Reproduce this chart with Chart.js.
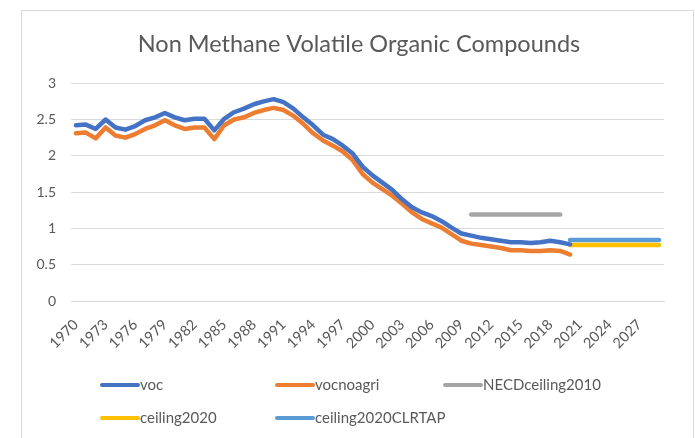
<!DOCTYPE html>
<html>
<head>
<meta charset="utf-8">
<title>Non Methane Volatile Organic Compounds</title>
<script src="https://cdn.jsdelivr.net/npm/chart.js@4.4.0/dist/chart.umd.min.js"></script>
<style>
  html, body { margin: 0; padding: 0; background: #fff; }
  #wrap { position: relative; width: 695px; height: 438px; overflow: hidden; }
  #frame { position: absolute; left: 21px; top: 10px; width: 671px; height: 470px; border: 1px solid #d9d9d9; }
  #vocChart { position: absolute; left: 0; top: 0; }
</style>
</head>
<body>
<div id="wrap">
  <div id="frame"></div>
  <canvas id="vocChart" width="695" height="438"></canvas>
</div>
<script>
const years = [
  '1970','1971','1972','1973','1974','1975','1976','1977','1978','1979',
  '1980','1981','1982','1983','1984','1985','1986','1987','1988','1989',
  '1990','1991','1992','1993','1994','1995','1996','1997','1998','1999',
  '2000','2001','2002','2003','2004','2005','2006','2007','2008','2009',
  '2010','2011','2012','2013','2014','2015','2016','2017','2018','2019',
  '2020','2021','2022','2023','2024','2025','2026','2027','2028','2029'
];

const voc = [
  2.42, 2.43, 2.37, 2.50, 2.39, 2.36, 2.41, 2.49, 2.53, 2.59,
  2.53, 2.49, 2.51, 2.51, 2.35, 2.51, 2.60, 2.65, 2.71, 2.75,
  2.78, 2.74, 2.65, 2.53, 2.42, 2.29, 2.23, 2.14, 2.03, 1.85,
  1.73, 1.63, 1.53, 1.40, 1.29, 1.22, 1.17, 1.10, 1.01, 0.93,
  0.90, 0.87, 0.85, 0.83, 0.81, 0.81, 0.80, 0.81, 0.83, 0.81,
  0.78, null, null, null, null, null, null, null, null, null
];

const vocnoagri = [
  2.31, 2.32, 2.24, 2.39, 2.28, 2.25, 2.30, 2.37, 2.42, 2.49,
  2.42, 2.37, 2.39, 2.39, 2.23, 2.42, 2.50, 2.53, 2.59, 2.63,
  2.66, 2.63, 2.55, 2.44, 2.31, 2.21, 2.14, 2.06, 1.94, 1.75,
  1.63, 1.54, 1.45, 1.34, 1.22, 1.13, 1.07, 1.01, 0.92, 0.83,
  0.79, 0.77, 0.75, 0.73, 0.70, 0.70, 0.69, 0.69, 0.70, 0.69,
  0.64, null, null, null, null, null, null, null, null, null
];

const necdCeiling2010 = [
  null, null, null, null, null, null, null, null, null, null,
  null, null, null, null, null, null, null, null, null, null,
  null, null, null, null, null, null, null, null, null, null,
  null, null, null, null, null, null, null, null, null, null,
  1.19, 1.19, 1.19, 1.19, 1.19, 1.19, 1.19, 1.19, 1.19, 1.19,
  null, null, null, null, null, null, null, null, null, null
];

const ceiling2020 = [
  null, null, null, null, null, null, null, null, null, null,
  null, null, null, null, null, null, null, null, null, null,
  null, null, null, null, null, null, null, null, null, null,
  null, null, null, null, null, null, null, null, null, null,
  null, null, null, null, null, null, null, null, null, null,
  0.77, 0.77, 0.77, 0.77, 0.77, 0.77, 0.77, 0.77, 0.77, 0.77
];

const ceiling2020CLRTAP = [
  null, null, null, null, null, null, null, null, null, null,
  null, null, null, null, null, null, null, null, null, null,
  null, null, null, null, null, null, null, null, null, null,
  null, null, null, null, null, null, null, null, null, null,
  null, null, null, null, null, null, null, null, null, null,
  0.84, 0.84, 0.84, 0.84, 0.84, 0.84, 0.84, 0.84, 0.84, 0.84
];

const yTicks = [0, 0.5, 1, 1.5, 2, 2.5, 3];

const textColor = '#595959';
const gridColor = '#d9d9d9';
const fontFamily = 'Lato, "Open Sans", sans-serif';

function series(label, data, color) {
  return {
    label: label,
    data: data,
    borderColor: color,
    backgroundColor: color,
    borderWidth: 4.5,
    borderCapStyle: 'round',
    borderJoinStyle: 'round',
    pointRadius: 0,
    pointHoverRadius: 0,
    tension: 0,
    spanGaps: false,
    fill: false
  };
}

// legend drawn in a two-row grid like the Excel original
const gridLegend = {
  id: 'gridLegend',
  afterDraw(chart) {
    const ctx = chart.ctx;
    const slots = [[100, 385], [275, 385], [443, 385], [100, 418], [275, 418]];
    ctx.save();
    ctx.font = '15px ' + fontFamily;
    ctx.textBaseline = 'middle';
    ctx.fillStyle = textColor;
    chart.data.datasets.forEach((ds, i) => {
      const [x, y] = slots[i];
      ctx.beginPath();
      ctx.strokeStyle = ds.borderColor;
      ctx.lineWidth = 4;
      ctx.lineCap = 'round';
      ctx.moveTo(x + 2, y);
      ctx.lineTo(x + 38, y);
      ctx.stroke();
      ctx.fillText(ds.label, x + 40, y);
    });
    ctx.restore();
  }
};

const vocChart = new Chart(document.getElementById('vocChart').getContext('2d'), {
  type: 'line',
  data: {
    labels: years,
    datasets: [
      series('voc', voc, '#4472C4'),
      series('vocnoagri', vocnoagri, '#ED7D31'),
      series('NECDceiling2010', necdCeiling2010, '#A5A5A5'),
      series('ceiling2020', ceiling2020, '#FFC000'),
      series('ceiling2020CLRTAP', ceiling2020CLRTAP, '#5B9BD5')
    ]
  },
  options: {
    responsive: false,
    animation: false,
    events: [],
    layout: { padding: { left: 23, right: 0, top: 0, bottom: 85 } },
    plugins: {
      legend: { display: false },
      tooltip: { enabled: false },
      title: {
        display: true,
        text: 'Non Methane Volatile Organic Compounds',
        color: textColor,
        font: { family: fontFamily, size: 23.5, weight: 'normal' },
        padding: { top: 30, bottom: 25 }
      }
    },
    scales: {
      x: {
        offset: true,
        grid: { display: false },
        border: { display: true, color: gridColor, width: 1 },
        ticks: {
          autoSkip: false,
          minRotation: 45,
          maxRotation: 45,
          padding: 7,
          color: textColor,
          font: { family: fontFamily, size: 14.5 },
          callback: function (value, index) {
            return index % 3 === 0 ? this.getLabelForValue(value) : '';
          }
        },
        afterFit(scale) {
          scale.height = 52;
          scale.paddingRight = 31;
        }
      },
      y: {
        min: 0,
        max: 3,
        afterBuildTicks(scale) { scale.ticks = yTicks.map(v => ({ value: v })); },
        grid: { color: gridColor, lineWidth: 1, drawTicks: false },
        border: { display: false },
        ticks: {
          padding: 15,
          color: textColor,
          font: { family: fontFamily, size: 14 },
          callback: v => String(v)
        },
        afterFit(scale) { scale.width = 48; }
      }
    }
  },
  plugins: [gridLegend]
});
</script>
</body>
</html>
